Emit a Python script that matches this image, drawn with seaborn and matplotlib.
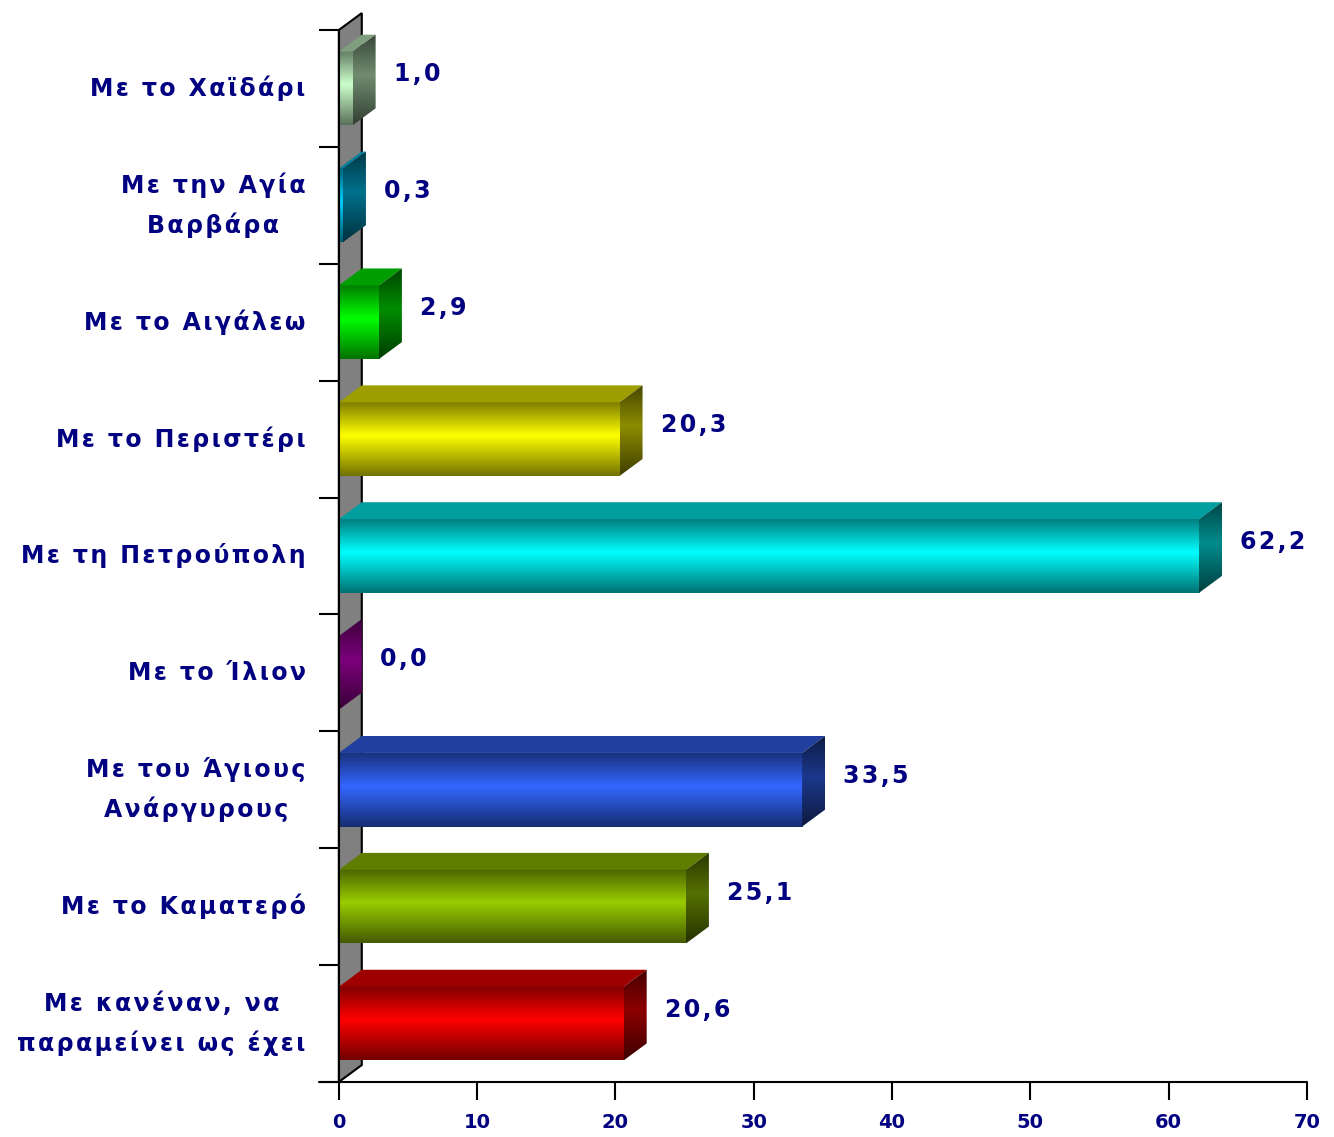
import numpy as np
import pandas as pd
import matplotlib
matplotlib.use("Agg")
import matplotlib.pyplot as plt
from matplotlib.patches import Polygon, Rectangle
from matplotlib.lines import Line2D
from matplotlib.colors import to_rgb
import seaborn as sns

categories = [
    "Με το Χαϊδάρι",
    "Με την Αγία\nΒαρβάρα",
    "Με το Αιγάλεω",
    "Με το Περιστέρι",
    "Με τη Πετρούπολη",
    "Με το Ίλιον",
    "Με του Άγιους\nΑνάργυρους",
    "Με το Καματερό",
    "Με κανέναν, να\nπαραμείνει ως έχει",
]
values = [1.0, 0.3, 2.9, 20.3, 62.2, 0.0, 33.5, 25.1, 20.6]
value_labels = ["1,0", "0,3", "2,9", "20,3", "62,2", "0,0", "33,5", "25,1", "20,6"]
colors = ["#ccffcc", "#00ccff", "#00ff00", "#ffff00", "#00ffff",
          "#e000e0", "#3366ff", "#99cc00", "#ff0000"]
x_ticks = [0, 10, 20, 30, 40, 50, 60, 70]

NAVY = "#000080"
DX = 1.66   # depth in x (data units)
DY = 0.145  # depth in y (category units)


def spaced(text):
    # widen letter spacing like the original
    return "\n".join("\u200a".join(line) for line in text.split("\n"))


df = pd.DataFrame({"category": categories, "value": values})

sns.set_theme(style="ticks")
plt.rcParams["font.family"] = ["DejaVu Sans"]

fig = plt.figure(figsize=(13.34, 11.37), dpi=100)
ax = fig.add_axes([0.254, 0.0484, 0.7257, 0.9252])

sns.barplot(data=df, x="value", y="category", hue="category", palette=colors,
            orient="h", width=0.63, legend=False, saturation=1, ax=ax)

bars = [p for p in ax.patches if isinstance(p, Rectangle)]
bars = sorted(bars, key=lambda p: p.get_y())


def gradient(base, n=64, scale=1.0):
    rgb = np.array(to_rgb(base))
    t = np.linspace(0, 1, n)
    f = np.interp(t, [0, 0.45, 1], [0.5, 1.0, 0.45]) * scale
    return np.clip(f[:, None] * rgb[None, :], 0, 1)[:, None, :]


# back wall
wall = Polygon([(0, 8.5), (0, -0.5), (DX, -0.5 - DY), (DX, 8.5 - DY)],
               closed=True, facecolor="#808080", edgecolor="black", lw=1.5,
               zorder=1, clip_on=False)
ax.add_patch(wall)

for i, patch in enumerate(bars):
    base = colors[i]
    x0 = patch.get_x()
    y0 = patch.get_y()
    h = patch.get_height()
    x1 = x0 + patch.get_width()
    y1 = y0 + h
    patch.set_zorder(2)
    patch.set_edgecolor("none")

    # front face gradient
    if x1 > x0:
        ax.imshow(gradient(base), extent=(x0, x1, y1, y0), aspect="auto",
                  zorder=3, interpolation="bilinear")

    # top face
    top = Polygon([(x0, y0), (x1, y0), (x1 + DX, y0 - DY), (x0 + DX, y0 - DY)],
                  closed=True, facecolor=np.array(to_rgb(base)) * 0.62,
                  edgecolor="none", zorder=3)
    ax.add_patch(top)

    # side face with gradient
    side = Polygon([(x1, y0), (x1 + DX, y0 - DY), (x1 + DX, y1 - DY), (x1, y1)],
                   closed=True, facecolor="none", edgecolor="none", zorder=3)
    ax.add_patch(side)
    im = ax.imshow(gradient(base, scale=0.55), extent=(x1, x1 + DX, y1, y0 - DY),
                   aspect="auto", zorder=3, interpolation="bilinear")
    im.set_clip_path(side)

    ax.text(values[i] + DX + 1.3, i - 0.12, spaced(value_labels[i]), ha="left",
            va="center", color=NAVY, fontsize=17, fontweight="bold", zorder=5)

ax.set_xlim(0, 70)
ax.set_ylim(8.5, -0.5)
ax.set_xlabel("")
ax.set_ylabel("")

ax.set_xticks(x_ticks)
ax.set_xticklabels([str(t) for t in x_ticks], color=NAVY, fontsize=14,
                   fontweight="bold")
ax.set_yticks(range(len(categories)))
ax.set_yticklabels([spaced(c) for c in categories], color=NAVY, fontsize=17,
                   fontweight="bold", multialignment="center", linespacing=1.7)
for lab in ax.get_yticklabels():
    lab.set_verticalalignment("center")
ax.set_yticks(np.arange(-0.5, 9, 1), minor=True)
ax.tick_params(axis="y", which="major", length=0, pad=24)
ax.tick_params(axis="y", which="minor", length=14.5, width=1.5, color="black",
               left=True)
ax.tick_params(axis="x", which="major", length=13, width=1.5, color="black",
               bottom=True, direction="out", pad=9)

for s in ["top", "right", "bottom"]:
    ax.spines[s].set_visible(False)
ax.spines["left"].set_color("black")
ax.spines["left"].set_linewidth(1.5)
ax.spines["left"].set_zorder(4)

ax.add_line(Line2D([-0.02, 1.0], [0, 0], transform=ax.transAxes, color="black",
                   lw=1.5, clip_on=False, zorder=4))

fig.savefig("out.png", dpi=100, facecolor="white")
